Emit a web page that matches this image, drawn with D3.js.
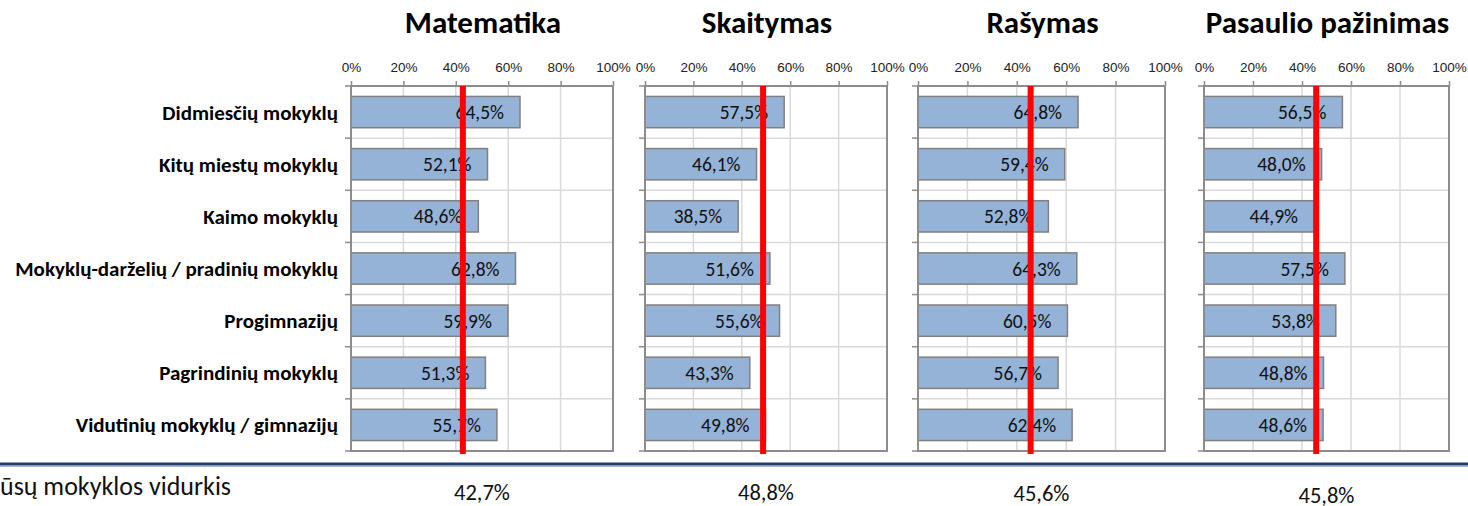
<!DOCTYPE html>
<html>
<head>
<meta charset="utf-8">
<script src="https://cdn.jsdelivr.net/npm/d3@7"></script>
<style>
  html, body { margin: 0; padding: 0; background: #fff; }
  svg { display: block; font-family: Carlito, Lato, "Liberation Sans", sans-serif; }
</style>
</head>
<body>
<svg id="chart" width="1468" height="506"></svg>
<script>
// ---- data ----
const categories = [
  "Didmiesčių mokyklų",
  "Kitų miestų mokyklų",
  "Kaimo mokyklų",
  "Mokyklų-darželių / pradinių mokyklų",
  "Progimnazijų",
  "Pagrindinių mokyklų",
  "Vidutinių mokyklų / gimnazijų"
];
const subjects = ["Matematika", "Skaitymas", "Rašymas", "Pasaulio pažinimas"];
const matematika = [64.5, 52.1, 48.6, 62.8, 59.9, 51.3, 55.7];
const skaitymas = [57.5, 46.1, 38.5, 51.6, 55.6, 43.3, 49.8];
const rasymas = [64.8, 59.4, 52.8, 64.3, 60.5, 56.7, 62.4];
const pasaulioPazinimas = [56.5, 48.0, 44.9, 57.5, 53.8, 48.8, 48.6];
const schoolAverage = [42.7, 48.8, 45.6, 45.8];
const tickValues = [0, 20, 40, 60, 80, 100];
const footerLabel = "ūsų mokyklos vidurkis";

const seriesValues = [matematika, skaitymas, rasymas, pasaulioPazinimas];

// ---- layout ----
const panelX = [[351, 613], [645, 887], [918, 1165], [1204, 1449]];
const plotTop = 86, plotBottom = 451;
const avgBaselines = [500, 500, 501, 503];
const fmt = v => v.toFixed(1).replace(".", ",") + "%";

const svg = d3.select("#chart");

const y = d3.scaleBand().domain(categories).range([plotTop, plotBottom]).paddingInner(0.4).paddingOuter(0.2);

panelX.forEach((px, i) => {
  const x = d3.scaleLinear().domain([0, 100]).range(px);
  const g = svg.append("g");

  // gridlines vertical
  g.selectAll("line.vg").data(tickValues.slice(1, -1)).join("line")
    .attr("x1", d => x(d)).attr("x2", d => x(d))
    .attr("y1", plotTop).attr("y2", plotBottom)
    .attr("stroke", "#d9d9d9").attr("stroke-width", 1.5);
  // gridlines horizontal at band boundaries
  const bounds = d3.range(1, categories.length).map(k => plotTop + (plotBottom - plotTop) * k / categories.length);
  g.selectAll("line.hg").data(bounds).join("line")
    .attr("x1", px[0]).attr("x2", px[1])
    .attr("y1", d => d).attr("y2", d => d)
    .attr("stroke", "#d9d9d9").attr("stroke-width", 1.5);

  // category ticks on left
  const allBounds = d3.range(0, categories.length + 1).map(k => plotTop + (plotBottom - plotTop) * k / categories.length);
  g.selectAll("line.ct").data(allBounds).join("line")
    .attr("x1", px[0] - 6).attr("x2", px[0])
    .attr("y1", d => d).attr("y2", d => d)
    .attr("stroke", "#8c8c8c").attr("stroke-width", 1.5);

  // x axis on top
  const ax = g.append("g").attr("transform", `translate(0,${plotTop})`)
    .call(d3.axisTop(x).tickValues(tickValues).tickFormat(d => d + "%").tickSize(5).tickPadding(9));
  ax.select(".domain").remove();
  ax.selectAll(".tick line").attr("stroke", "#8c8c8c").attr("stroke-width", 1.5);
  ax.selectAll(".tick text").attr("font-size", 13.5).attr("fill", "#222").attr("font-family", null);

  // bars
  const vals = seriesValues[i];
  g.selectAll("rect.bar").data(vals).join("rect")
    .attr("x", x(0)).attr("y", (d, k) => y(categories[k]))
    .attr("width", d => x(d) - x(0)).attr("height", y.bandwidth())
    .attr("fill", "#95b3d7").attr("stroke", "#808080").attr("stroke-width", 1.5);

  // plot border
  g.append("rect").attr("x", px[0]).attr("y", plotTop)
    .attr("width", px[1] - px[0]).attr("height", plotBottom - plotTop)
    .attr("fill", "none").attr("stroke", "#8c8c8c").attr("stroke-width", 2);

  // bar labels
  g.selectAll("text.bl").data(vals).join("text")
    .attr("x", d => x(d) - 16).attr("y", (d, k) => y(categories[k]) + y.bandwidth() / 2)
    .attr("dy", "0.36em").attr("text-anchor", "end")
    .attr("font-size", 19.5).attr("fill", "#111")
    .text(d => fmt(d));

  // average red line
  g.append("line")
    .attr("x1", x(schoolAverage[i])).attr("x2", x(schoolAverage[i]))
    .attr("y1", plotTop).attr("y2", plotBottom + 3)
    .attr("stroke", "#ff0000").attr("stroke-width", 6);

  // title
  g.append("text").attr("x", (px[0] + px[1]) / 2 + 1).attr("y", 33)
    .attr("text-anchor", "middle").attr("font-size", 31).attr("font-weight", "bold")
    .attr("fill", "#000").text(subjects[i]);

  // average value at bottom
  g.append("text").attr("x", (px[0] + px[1]) / 2).attr("y", avgBaselines[i])
    .attr("text-anchor", "middle").attr("font-size", 22.5).attr("fill", "#111")
    .text(fmt(schoolAverage[i]));
});

// category labels
svg.append("g").selectAll("text").data(categories).join("text")
  .attr("x", panelX[0][0] - 13).attr("y", d => y(d) + y.bandwidth() / 2)
  .attr("dy", "0.36em").attr("text-anchor", "end")
  .attr("font-size", 21).attr("font-weight", "bold").attr("fill", "#000")
  .text(d => d);

// separator line
svg.append("line").attr("x1", 0).attr("x2", 1468).attr("y1", 464).attr("y2", 464)
  .attr("stroke", "#1f3d6b").attr("stroke-width", 3);
svg.append("line").attr("x1", 0).attr("x2", 1468).attr("y1", 466.5).attr("y2", 466.5)
  .attr("stroke", "#9db3cf").attr("stroke-width", 1);

// footer
svg.append("text").attr("x", 0).attr("y", 495).attr("font-size", 26).attr("fill", "#111")
  .text(footerLabel);
</script>
</body>
</html>
